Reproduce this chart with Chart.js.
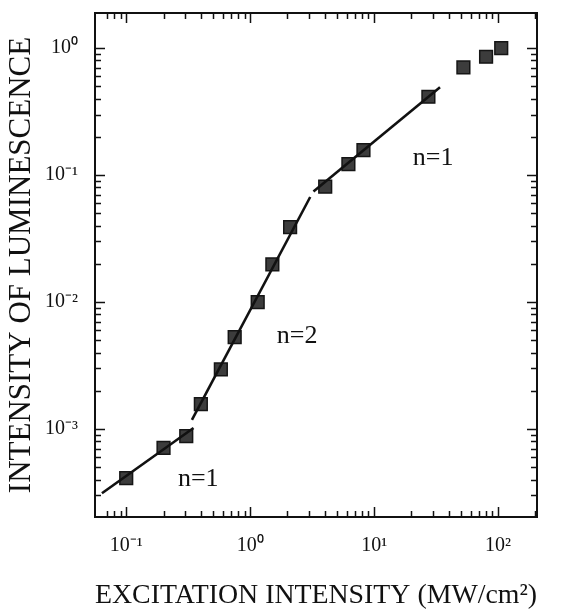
<!DOCTYPE html>
<html>
<head>
<meta charset="utf-8">
<script src="https://cdn.jsdelivr.net/npm/chart.js@4.4.1/dist/chart.umd.min.js"></script>
<style>
  body { margin: 0; background: #fff; }
  canvas { display: block; }
</style>
</head>
<body>
<canvas id="lum-chart" width="576" height="612"></canvas>
<script>
// measured points (excitation MW/cm^2 vs luminescence intensity)
const excitation = [0.1, 0.2, 0.305, 0.40, 0.58, 0.75, 1.15, 1.51, 2.1, 4.03, 6.2, 8.2, 27.4, 52.5, 80, 106];
const luminescence = [4.1e-4, 7.1e-4, 8.8e-4, 1.57e-3, 2.95e-3, 5.3e-3, 1.0e-2, 1.98e-2, 3.9e-2, 8.1e-2, 0.122, 0.157, 0.414, 0.705, 0.855, 1.0];

// fitted lines
const fitLowX = [0.0637, 0.349];
const fitLowY = [3.12e-4, 1.02e-3];
const fitMidX = [0.339, 3.05];
const fitMidY = [1.18e-3, 0.0672];
const fitHighX = [3.24, 34.0];
const fitHighY = [0.0744, 0.491];

// slope labels
const slopeLabels = ['n=1', 'n=2', 'n=1'];
const slopeLabelX = [0.381, 2.39, 29.9];
const slopeLabelY = [4.03e-4, 5.4e-3, 0.136];

const serif = '"Liberation Serif", "Times New Roman", serif';
const sup = {'-': '\u207B', '0': '\u2070', '1': '\u00B9', '2': '\u00B2', '3': '\u00B3'};

function pairs(xs, ys) {
    return xs.map((x, i) => ({x: x, y: ys[i]}));
}

function decadeLabel(value) {
    const e = Math.round(Math.log10(value));
    if (Math.abs(value / Math.pow(10, e) - 1) > 1e-6) return '';
    return '10' + String(e).split('').map(c => sup[c]).join('');
}

function isDecadeStep(value) {
    const e = Math.floor(Math.log10(value) + 1e-9);
    const m = value / Math.pow(10, e);
    return Math.abs(m - Math.round(m)) < 1e-6;
}

// inward ticks on all four sides + frame + slope labels
const framePlugin = {
    id: 'frame',
    afterDraw(chart) {
        const {ctx, chartArea: a, scales} = chart;
        ctx.save();
        ctx.strokeStyle = '#111';
        ctx.lineWidth = 1.5;
        scales.x.ticks.forEach(t => {
            if (!isDecadeStep(t.value)) return;
            const px = Math.round(scales.x.getPixelForValue(t.value)) + 0.5;
            if (px <= a.left + 1 || px >= a.right - 1) return;
            const len = decadeLabel(t.value) ? 10 : 6;
            ctx.beginPath();
            ctx.moveTo(px, a.bottom); ctx.lineTo(px, a.bottom - len);
            ctx.moveTo(px, a.top); ctx.lineTo(px, a.top + len);
            ctx.stroke();
        });
        scales.y.ticks.forEach(t => {
            if (!isDecadeStep(t.value)) return;
            const py = Math.round(scales.y.getPixelForValue(t.value)) + 0.5;
            if (py <= a.top + 1 || py >= a.bottom - 1) return;
            const len = decadeLabel(t.value) ? 10 : 6;
            ctx.beginPath();
            ctx.moveTo(a.left, py); ctx.lineTo(a.left + len, py);
            ctx.moveTo(a.right, py); ctx.lineTo(a.right - len, py);
            ctx.stroke();
        });
        ctx.lineWidth = 2;
        ctx.strokeRect(a.left, a.top, a.right - a.left, a.bottom - a.top);

        ctx.fillStyle = '#111';
        ctx.font = '26px ' + serif;
        ctx.textAlign = 'center';
        ctx.textBaseline = 'middle';
        slopeLabels.forEach((txt, i) => {
            ctx.fillText(txt, scales.x.getPixelForValue(slopeLabelX[i]), scales.y.getPixelForValue(slopeLabelY[i]));
        });
        ctx.restore();
    }
};

const lineStyle = {
    type: 'line',
    showLine: true,
    borderColor: '#111',
    borderWidth: 2.6,
    pointRadius: 0,
    fill: false
};

new Chart(document.getElementById('lum-chart'), {
    type: 'scatter',
    data: {
        datasets: [
            Object.assign({label: 'fit low', data: pairs(fitLowX, fitLowY)}, lineStyle),
            Object.assign({label: 'fit mid', data: pairs(fitMidX, fitMidY)}, lineStyle),
            Object.assign({label: 'fit high', data: pairs(fitHighX, fitHighY)}, lineStyle),
            {
                label: 'data',
                data: pairs(excitation, luminescence),
                pointStyle: 'rect',
                pointRadius: 9,
                pointBackgroundColor: '#3c3c3c',
                pointBorderColor: '#151515',
                pointBorderWidth: 1.5
            }
        ]
    },
    options: {
        responsive: false,
        animation: false,
        layout: {padding: {top: 13, right: 39, bottom: 0, left: 0}},
        plugins: {legend: {display: false}, tooltip: {enabled: false}},
        scales: {
            x: {
                type: 'logarithmic',
                min: 0.056,
                max: 206,
                grid: {display: false, drawTicks: false},
                border: {display: false},
                afterFit(scale) {
                    scale.height = 95;
                    scale.paddingLeft = 0;
                    scale.paddingRight = 0;
                },
                ticks: {
                    autoSkip: false,
                    maxRotation: 0,
                    padding: 17,
                    color: '#111',
                    font: {family: serif, size: 20},
                    callback: v => decadeLabel(v)
                },
                title: {
                    display: true,
                    text: 'EXCITATION INTENSITY (MW/cm\u00B2)',
                    color: '#111',
                    font: {family: serif, size: 28},
                    padding: {top: 0, bottom: 0}
                }
            },
            y: {
                type: 'logarithmic',
                min: 2.03e-4,
                max: 1.89,
                grid: {display: false, drawTicks: false},
                border: {display: false},
                afterFit(scale) {
                    scale.width = 95;
                    scale.paddingTop = 0;
                    scale.paddingBottom = 0;
                },
                ticks: {
                    autoSkip: false,
                    padding: 17,
                    color: '#111',
                    font: {family: serif, size: 20},
                    callback: v => decadeLabel(v)
                },
                title: {
                    display: true,
                    text: 'INTENSITY OF LUMINESCENCE',
                    color: '#111',
                    font: {family: serif, size: 31},
                    padding: {top: 3, bottom: 0}
                }
            }
        }
    },
    plugins: [framePlugin]
});
</script>
</body>
</html>
